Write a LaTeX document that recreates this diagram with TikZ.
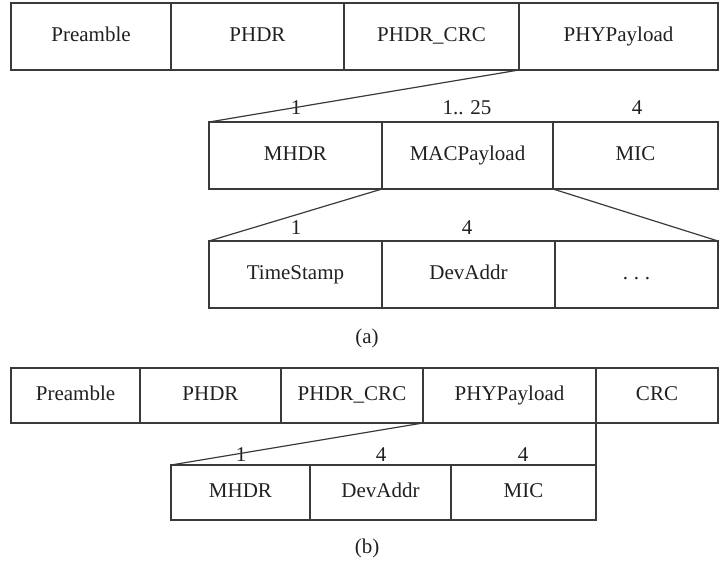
\documentclass[tikz,border=0pt]{standalone}
\usepackage{fontspec}
\setmainfont{Liberation Serif}
\definecolor{linecol}{HTML}{3A3A3A}
\definecolor{txtcol}{HTML}{231F20}
\newcommand{\spaceddots}{.\hspace{0.27em}.\hspace{0.27em}.}
\begin{document}
\begin{tikzpicture}[x=1pt,y=-1pt,
  cell/.style={draw=linecol, line width=1.2pt, inner sep=0pt, outer sep=0pt,
    anchor=north west, font=\fontsize{21}{25}\selectfont, text=txtcol,
    text height=14pt, text depth=4pt},
  rowa/.style={cell, minimum height=67pt},
  rowb/.style={cell, minimum height=55pt},
  lab/.style={inner sep=0pt, font=\fontsize{21}{25}\selectfont, text=txtcol,
    text height=14pt, text depth=0pt},
  conn/.style={draw=linecol, line width=1.2pt}]
\useasboundingbox (0,0) rectangle (720,563);

% ---------- (a) ----------
\node[rowa, minimum width=160pt] (a1) at (11,3) {Preamble};
\node[rowa, minimum width=173pt] (a2) at (171,3) {PHDR};
\node[rowa, minimum width=175pt] (a3) at (344,3) {PHDR\_CRC};
\node[rowa, minimum width=199pt] (a4) at (519,3) {PHYPayload};

\node[rowa, minimum width=173pt] (m1) at (209,122) {MHDR};
\node[rowa, minimum width=171pt] (m2) at (382,122) {MACPayload};
\node[rowa, minimum width=165pt] (m3) at (553,122) {MIC};

\node[lab] (lm1) at (296,107) {1};
\node[lab] (lm2) at (467,107) {1.. 25};
\node[lab] (lm3) at (637,107) {4};

\node[rowa, minimum width=173pt] (p1) at (209,241) {TimeStamp};
\node[rowa, minimum width=173pt] (p2) at (382,241) {DevAddr};
\node[rowa, minimum width=163pt] (p3) at (555,241) {\spaceddots};

\node[lab] (lp1) at (296,227) {1};
\node[lab] (lp2) at (467,227) {4};

\draw[conn] (a4.south west) -- (m1.north west);
\draw[conn] (m2.south west) -- (p1.north west);
\draw[conn] (m2.south east) -- (p3.north east);

\node[lab, text depth=4pt] (capa) at (367,338) {(a)};

% ---------- (b) ----------
\node[rowb, minimum width=129pt] (b1) at (11,368) {Preamble};
\node[rowb, minimum width=141pt] (b2) at (140,368) {PHDR};
\node[rowb, minimum width=142pt] (b3) at (281,368) {PHDR\_CRC};
\node[rowb, minimum width=173pt] (b4) at (423,368) {PHYPayload};
\node[rowb, minimum width=122pt] (b5) at (596,368) {CRC};

\node[rowb, minimum width=139pt] (c1) at (171,465) {MHDR};
\node[rowb, minimum width=141pt] (c2) at (310,465) {DevAddr};
\node[rowb, minimum width=145pt] (c3) at (451,465) {MIC};

\node[lab] (lc1) at (241,454) {1};
\node[lab] (lc2) at (381,454) {4};
\node[lab] (lc3) at (523,454) {4};

\draw[conn] (b4.south west) -- (c1.north west);
\draw[conn] (b4.south east) -- (c3.north east);

\node[lab, text depth=4pt] (capb) at (367,548) {(b)};
\end{tikzpicture}
\end{document}
